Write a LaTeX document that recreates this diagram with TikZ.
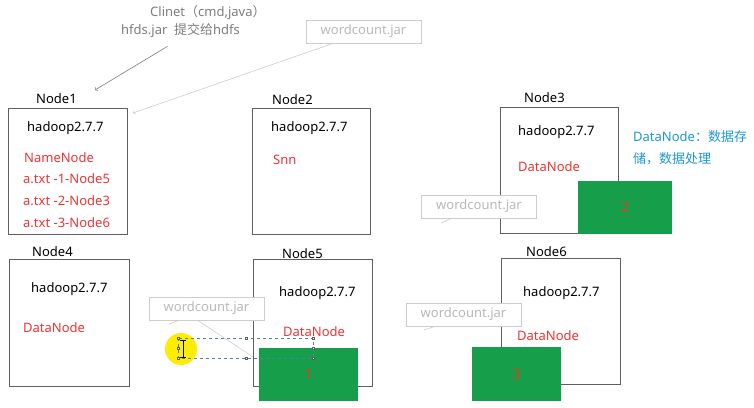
\documentclass[tikz,border=0pt]{standalone}
\usepackage{fontspec}
\setmainfont{Noto Sans}
\newfontfamily\cjk{Noto Sans CJK SC}

\definecolor{boxgray}{RGB}{95,95,95}
\definecolor{namered}{RGB}{238,52,52}
\definecolor{blockgreen}{RGB}{22,158,74}
\definecolor{numred}{RGB}{228,58,42}
\definecolor{infoblue}{RGB}{30,150,212}
\definecolor{clientgray}{RGB}{125,125,125}
\definecolor{jartext}{RGB}{185,185,185}
\definecolor{jarline}{RGB}{205,205,205}
\definecolor{selblue}{RGB}{70,130,180}

\begin{document}
\begin{tikzpicture}[x=1pt,y=-1pt,font=\fontsize{13}{15}\selectfont,
    hostbox/.style={draw=boxgray, line width=0.8pt, minimum width=119pt, minimum height=126pt, inner sep=0pt},
    label/.style={anchor=west, inner sep=0pt},
    role/.style={label, text=namered},
    block/.style={fill=blockgreen, text=numred, font=\fontsize{14}{16}\selectfont, inner sep=0pt},
    jarbox/.style={draw=jarline, fill=white, text=jartext, minimum width=115pt, minimum height=23pt, inner sep=0pt},
    jarline/.style={draw=jarline, line width=0.6pt},
    handle/.style={draw=boxgray, fill=white, inner sep=0pt, minimum size=2pt}]
      % 画布范围
      \useasboundingbox (0,0) rectangle (754,407);

      % 六台主机
      \node[hostbox] (node1) at (67.5,171) {};
      \node[hostbox, minimum width=118pt] (node2) at (311,171) {};
      \node[hostbox, minimum width=118pt] (node3) at (559,170) {};
      \node[hostbox, minimum width=120pt, minimum height=127pt] (node4) at (69,322.5) {};
      \node[hostbox, minimum height=127pt] (node5) at (312.5,322.5) {};
      \node[hostbox] (node6) at (560.5,321) {};

      % 主机名
      \node[label] (name1) at (36,99) {Node1};
      \node[label] (name2) at (272,100) {Node2};
      \node[label] (name3) at (524,98) {Node3};
      \node[label] (name4) at (32,252) {Node4};
      \node[label] (name5) at (282,254) {Node5};
      \node[label] (name6) at (526,252) {Node6};

      % 版本
      \node[label] (ver1) at (27,128) {hadoop2.7.7};
      \node[label] (ver2) at (271,128) {hadoop2.7.7};
      \node[label] (ver3) at (518,132) {hadoop2.7.7};
      \node[label] (ver4) at (31,289) {hadoop2.7.7};
      \node[label] (ver5) at (279,293) {hadoop2.7.7};
      \node[label] (ver6) at (523,293) {hadoop2.7.7};

      % 角色
      \node[role] (nn) at (24,158) {NameNode};
      \node[role] (meta1) at (23,179) {a.txt -1-Node5};
      \node[role] (meta2) at (23,201) {a.txt -2-Node3};
      \node[role] (meta3) at (23,223) {a.txt -3-Node6};
      \node[role] (snn) at (273,160) {Snn};
      \node[role] (dn3) at (518,167) {DataNode};
      \node[role] (dn4) at (23,328) {DataNode};
      \node[role] (dn5) at (283,332) {DataNode};
      \node[role] (dn6) at (517,336) {DataNode};

      % 说明
      \node[label, text=infoblue] (info1) at (633,137) {DataNode{\cjk ：数据存}};
      \node[label, text=infoblue] (info2) at (633,159) {{\cjk 储，数据处理}};

      % 客户端
      \node[label, text=clientgray] (client) at (150,12) {Clinet{\cjk （}cmd,java{\cjk ）}};
      \node[label, text=clientgray] (hfds) at (121,31) {hfds.jar\ \ {\cjk 提交给}hdfs};

      % 数据块
      \node[block, minimum width=99pt, minimum height=53pt] (blk1) at (308.5,374.5) {1};
      \node[block, minimum width=94pt, minimum height=53pt] (blk2) at (625,207.5) {2};
      \node[block, minimum width=89pt, minimum height=54pt] (blk3) at (516.5,374) {3};

      % jar 包
      \node[jarbox] (jar0) at (363.5,31.5) {wordcount.jar};
      \node[jarbox] (jar3) at (479,206.5) {wordcount.jar};
      \node[jarbox] (jar5) at (206.5,308.5) {wordcount.jar};
      \node[jarbox] (jar6) at (463.5,314.5) {wordcount.jar};

      % 提交箭头
      \coordinate (tip1) at (95,90);
      \coordinate (tip2) at (133,113);
      \draw[clientgray, line width=0.6pt, ->] ([xshift=-13pt,yshift=-8pt]hfds.south) -- (tip1);
      \draw[jarline, ->] ([xshift=-30pt]jar0.south) -- (tip2);

      % 小尾巴
      \coordinate (tail3) at (441,223);
      \coordinate (tail5) at (169,324);
      \coordinate (tail6) at (424,330);
      \coordinate (drop5) at (253,357);
      \draw[jarline] ([xshift=-27pt]jar3.south) -- (tail3);
      \draw[jarline] ([xshift=-27pt]jar5.south) -- (tail5);
      \draw[jarline] ([xshift=-9pt]jar5.south) -- (drop5);
      \draw[jarline] ([xshift=-28pt]jar6.south) -- (tail6);

      % 光标和选区
      \fill[yellow!95!orange] (181,349) circle (16);
      \coordinate (selA) at (178,338);
      \coordinate (selB) at (313,358);
      \draw[selblue, dashed, line width=0.6pt] (selA) rectangle (selB);
      \foreach \hx/\hy in {178/338, 246/338, 313/338, 178/358, 246/358, 313/358, 313/348, 178/348}
        \node[handle] at (\hx,\hy) {};
      \draw[blue!60!black, line width=1pt] (183,340) -- (183,357) (180,340) -- (186,340) (180,357) -- (186,357);
\end{tikzpicture}
\end{document}
